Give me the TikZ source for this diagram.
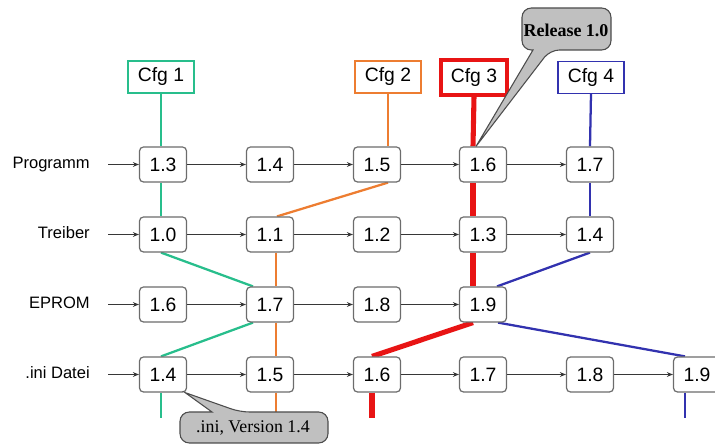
\documentclass[tikz,border=0pt]{standalone}
\usepackage{fontspec}
\setmainfont{Liberation Sans}
\newfontfamily\notefont{Liberation Serif}
\usetikzlibrary{arrows.meta, calc, backgrounds}
\definecolor{cfgteal}{RGB}{40, 190, 140}
\definecolor{cfgorange}{RGB}{237, 125, 49}
\definecolor{cfgred}{RGB}{232, 20, 20}
\definecolor{cfgblue}{RGB}{50, 50, 175}
\definecolor{notegray}{RGB}{192, 192, 192}
\definecolor{linegray}{RGB}{55, 55, 55}

\tikzset{
  ver/.style={draw=gray!85!black, fill=white, rounded corners=3pt, minimum width=35.25pt,
    minimum height=26.25pt, inner sep=0pt, line width=0.9pt, font=\fontsize{14.5}{16}\selectfont},
  cfg/.style={draw=#1, fill=white, minimum width=49.5pt, minimum height=24pt, inner sep=0pt,
    line width=0.8pt, font=\fontsize{14.5}{16}\selectfont},
  row/.style={anchor=east, inner xsep=0pt, text height=9pt, text depth=2.5pt, font=\fontsize{12.4}{14}\selectfont},
  nxt/.style={-{Stealth[length=4.5pt, width=3.6pt]}, linegray, line width=0.75pt},
  trace/.style={#1, line width=1.7pt},
  note/.style={fill=notegray, draw=gray!60!black, line width=0.8pt},
}

\begin{document}
\begin{tikzpicture}[x=0.75pt, y=-0.75pt]
  \useasboundingbox (0,0) rectangle (715,448);

  % configurations
  \node[cfg=cfgteal]   (cfg1) at (161,77)   {Cfg 1};
  \node[cfg=cfgorange] (cfg2) at (388,77)   {Cfg 2};
  \node[cfg=cfgred, line width=3pt, minimum width=49pt, minimum height=26.5pt] (cfg3) at (474,77.5) {Cfg 3};
  \node[cfg=cfgblue]   (cfg4) at (591,77.5) {Cfg 4};

  % components
  \node[row] (lprog) at (90,164.5) {Programm};
  \node[row] (ltreib) at (90,234.5) {Treiber};
  \node[row] (leprom) at (90,304.5) {EPROM};
  \node[row] (lini) at (90,374.5) {.ini Datei};
  \coordinate (s1) at (108,164.5);
  \coordinate (s2) at (108,234.5);
  \coordinate (s3) at (108,304.5);
  \coordinate (s4) at (108,374.5);

  % versions
  \node[ver] (p13) at (163,164.5) {1.3};
  \node[ver] (p14) at (270,164.5) {1.4};
  \node[ver] (p15) at (377,164.5) {1.5};
  \node[ver] (p16) at (483,164.5) {1.6};
  \node[ver] (p17) at (590,164.5) {1.7};

  \node[ver] (t10) at (163,234.5) {1.0};
  \node[ver] (t11) at (270,234.5) {1.1};
  \node[ver] (t12) at (377,234.5) {1.2};
  \node[ver] (t13) at (483,234.5) {1.3};
  \node[ver] (t14) at (590,234.5) {1.4};

  \node[ver] (e16) at (163,304.5) {1.6};
  \node[ver] (e17) at (270,304.5) {1.7};
  \node[ver] (e18) at (377,304.5) {1.8};
  \node[ver] (e19) at (483,304.5) {1.9};

  \node[ver] (i14) at (163,374.5) {1.4};
  \node[ver] (i15) at (270,374.5) {1.5};
  \node[ver] (i16) at (377,374.5) {1.6};
  \node[ver] (i17) at (483,374.5) {1.7};
  \node[ver] (i18) at (590,374.5) {1.8};
  \node[ver] (i19) at (697,374.5) {1.9};

  \draw[nxt] (s1) -- (p13);
  \draw[nxt] (p13) -- (p14);
  \draw[nxt] (p14) -- (p15);
  \draw[nxt] (p15) -- (p16);
  \draw[nxt] (p16) -- (p17);
  \draw[nxt] (s2) -- (t10);
  \draw[nxt] (t10) -- (t11);
  \draw[nxt] (t11) -- (t12);
  \draw[nxt] (t12) -- (t13);
  \draw[nxt] (t13) -- (t14);
  \draw[nxt] (s3) -- (e16);
  \draw[nxt] (e16) -- (e17);
  \draw[nxt] (e17) -- (e18);
  \draw[nxt] (e18) -- (e19);
  \draw[nxt] (s4) -- (i14);
  \draw[nxt] (i14) -- (i15);
  \draw[nxt] (i15) -- (i16);
  \draw[nxt] (i16) -- (i17);
  \draw[nxt] (i17) -- (i18);
  \draw[nxt] (i18) -- (i19);

  % which version belongs to which configuration
  \begin{scope}[on background layer]
    \draw[trace=cfgteal] (cfg1.south) -- ($(p13.north)+(-2,0)$);
    \draw[trace=cfgteal] ($(p13.south)+(-2,0)$) -- ($(t10.north)+(-2,0)$);
    \draw[trace=cfgteal] ($(t10.south)+(-2,0)$) -- ($(e17.north)+(-17,0)$);
    \draw[trace=cfgteal] ($(e17.south)+(-17,0)$) -- ($(i14.north)+(-2,0)$);
    \draw[trace=cfgteal] ($(i14.south)+(-2,0)$) -- ++(0,25);

    \draw[trace=cfgorange] (cfg2.south) -- ($(p15.north)+(11,0)$);
    \draw[trace=cfgorange] ($(p15.south)+(11,0)$) -- ($(t11.north)+(7,0)$);
    \draw[trace=cfgorange] ($(t11.south)+(6,0)$) -- ($(e17.north)+(6,0)$);
    \draw[trace=cfgorange] ($(e17.south)+(6,0)$) -- ($(i15.north)+(6,0)$);
    \draw[trace=cfgorange] ($(i15.south)+(6,0)$) -- ++(0,25);

    \draw[trace=cfgred, line width=3.8pt] (cfg3.south) -- ($(p16.north)+(-10,0)$);
    \draw[trace=cfgred, line width=3.8pt] ($(p16.south)+(-10,0)$) -- ($(t13.north)+(-10,0)$);
    \draw[trace=cfgred, line width=3.8pt] ($(t13.south)+(-10,0)$) -- ($(e19.north)+(-10,0)$);
    \draw[trace=cfgred, line width=3.8pt] ($(e19.south)+(-10,0)$) -- ($(i16.north)+(-5,0)$);
    \draw[trace=cfgred, line width=3.8pt] ($(i16.south)+(-5,0)$) -- ++(0,25);

    \draw[trace=cfgblue] (cfg4.south) -- (p17.north);
    \draw[trace=cfgblue] (p17.south) -- (t14.north);
    \draw[trace=cfgblue] (t14.south) -- ($(e19.north)+(14,0)$);
    \draw[trace=cfgblue] ($(e19.south)+(15,0)$) -- ($(i19.north)+(-12,0)$);
    \draw[trace=cfgblue] ($(i19.south)+(-12,0)$) -- ++(0,25);
  \end{scope}

  % callouts
  \draw[note] (550,50) -- ($(p16.north)+(-7,0)$) -- (533,50) [rounded corners=7pt]
    -- (522,50) -- (522,8) -- (611,8) -- (611,50) -- cycle;
  \node[font={\notefont\bfseries\fontsize{13.5}{15}\selectfont}] (rel) at (566,30) {Release 1.0};

  \draw[note] (240,412) -- ($(i14.south east)+(-2,0)$) -- (212,412) [rounded corners=7pt]
    -- (180,412) -- (180,443) -- (328,443) -- (328,412) -- cycle;
  \node[font={\notefont\fontsize{13.4}{15}\selectfont}] (ininote) at (253,428) {.ini, Version 1.4};
\end{tikzpicture}
\end{document}
